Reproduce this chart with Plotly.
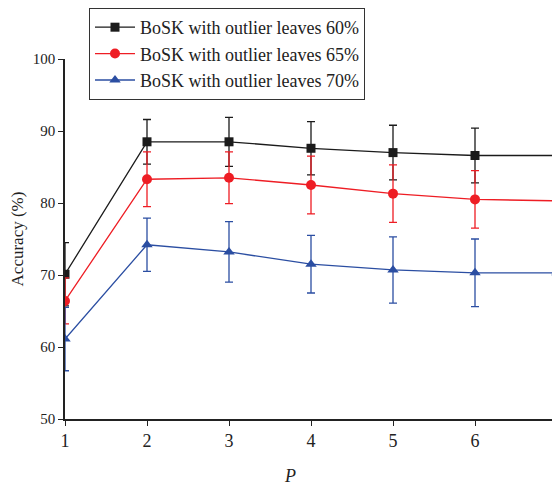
import plotly.graph_objects as go

P = [1, 2, 3, 4, 5, 6, 7]
names = ["BoSK with outlier leaves 60%", "BoSK with outlier leaves 65%", "BoSK with outlier leaves 70%"]
acc60 = [70.1, 88.5, 88.5, 87.6, 87.0, 86.6, 86.6]
err60 = [4.4, 3.1, 3.4, 3.7, 3.8, 3.8, 3.8]
acc65 = [66.4, 83.3, 83.5, 82.5, 81.3, 80.5, 80.3]
err65 = [3.2, 3.8, 3.6, 4.0, 4.0, 4.0, 4.0]
acc70 = [61.1, 74.2, 73.2, 71.5, 70.7, 70.3, 70.3]
err70 = [4.4, 3.7, 4.2, 4.0, 4.6, 4.7, 4.8]

colors = ["#1b1b1b", "#ee1d24", "#2b4ea2"]
symbols = ["square", "circle", "triangle-up"]
sizes = [9, 10, 10]
series = [(acc60, err60), (acc65, err65), (acc70, err70)]

fig = go.Figure()
for (y, e), name, c, s, sz in zip(series, names, colors, symbols, sizes):
    fig.add_trace(go.Scatter(
        x=P, y=y, name=name, mode="lines+markers",
        line=dict(color=c, width=1.3),
        marker=dict(symbol=s, size=sz, color=c),
        error_y=dict(type="data", array=e, visible=True, color=c, thickness=1.3, width=4),
        cliponaxis=True,
    ))

font_family = "Liberation Serif"
fig.update_layout(
    width=560, height=483,
    margin=dict(l=57, r=3, t=51, b=72, autoexpand=False),
    paper_bgcolor="white", plot_bgcolor="white",
    font=dict(family=font_family, color="#222222"),
    showlegend=True,
    legend=dict(
        x=0.048, y=1.1417, xanchor="left", yanchor="top",
        bordercolor="#333333", borderwidth=1, bgcolor="white",
        font=dict(size=18, family=font_family, color="#222222"),
        tracegroupgap=0, itemwidth=40,
    ),
    xaxis=dict(
        range=[1, 7.0976], tickvals=P, ticktext=[str(v) for v in P],
        showgrid=False, zeroline=False, automargin=False,
        showline=True, linecolor="#222222", linewidth=1.5,
        ticks="outside", ticklen=5, tickwidth=1.3, tickcolor="#222222",
        tickfont=dict(size=18, family=font_family),
    ),
    yaxis=dict(
        range=[50, 100], tickvals=[50, 60, 70, 80, 90, 100],
        showgrid=False, zeroline=False, automargin=False,
        showline=True, linecolor="#222222", linewidth=1.5,
        ticks="outside", ticklen=5, tickwidth=1.3, tickcolor="#222222",
        tickfont=dict(size=15, family=font_family),
        title=dict(text="Accuracy (%)", font=dict(size=17, family=font_family), standoff=12),
    ),
    annotations=[dict(
        text="<i>P</i>", x=0.45, y=0, xref="paper", yref="paper",
        yanchor="middle", yshift=-57,
        showarrow=False, font=dict(size=18, family=font_family),
    )],
)

fig.write_html("out.html")
